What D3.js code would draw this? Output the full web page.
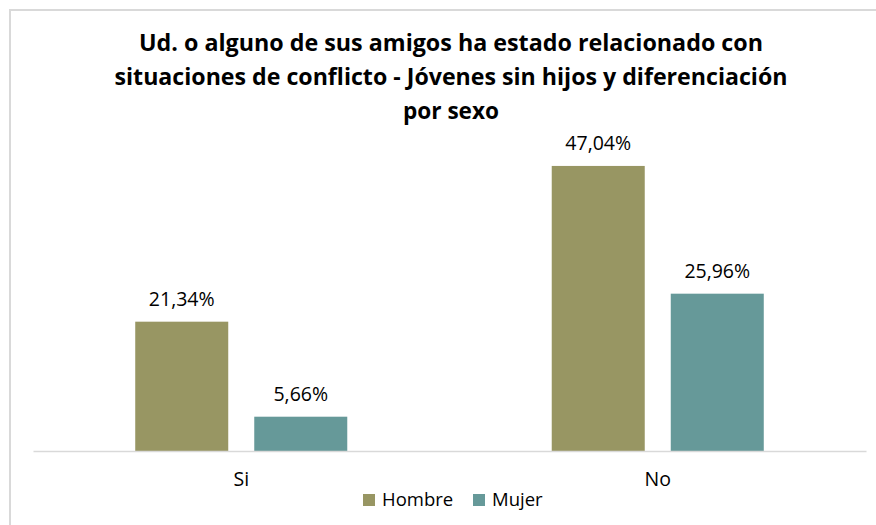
<!DOCTYPE html>
<html>
<head>
<meta charset="utf-8">
<script src="https://cdn.jsdelivr.net/npm/d3@7"></script>
<style>
  html, body { margin: 0; padding: 0; background: #fff; }
  svg { display: block; }
  text { font-family: "Open Sans", "Noto Sans", sans-serif; fill: #000; }
</style>
</head>
<body>
<svg id="chart" width="876" height="525"></svg>
<script>
// Chart data
const categories = ["Si", "No"];
const seriesNames = ["Hombre", "Mujer"];
const hombreValues = [21.34, 47.04];
const mujerValues = [5.66, 25.96];
const titleLines = [
  "Ud. o alguno de sus amigos ha estado relacionado con",
  "situaciones de conflicto - Jóvenes sin hijos y diferenciación",
  "por sexo"
];
const seriesColors = ["#989663", "#669999"];

const values = [hombreValues, mujerValues];
const svg = d3.select("#chart");

// Chart area frame
svg.append("rect")
  .attr("x", 10).attr("y", 10)
  .attr("width", 900).attr("height", 540)
  .attr("fill", "#fff")
  .attr("stroke", "#d9d9d9")
  .attr("stroke-width", 2);

// Title (three centred bold lines)
const titleWidths = [624, 673, 96];
const titleG = svg.append("g");
titleLines.forEach((line, i) => {
  titleG.append("text")
    .attr("x", 451)
    .attr("y", 51 + i * 34)
    .attr("text-anchor", "middle")
    .attr("font-size", 22.5)
    .attr("font-weight", 700)
    .attr("textLength", titleWidths[i])
    .attr("lengthAdjust", "spacingAndGlyphs")
    .text(line);
});

// Scales
const plot = { left: 33, right: 866, top: 148, bottom: 451 };
const x = d3.scaleBand().domain(categories).range([plot.left, plot.right]);
const xSub = d3.scaleBand().domain(seriesNames)
  .range([0, x.bandwidth()])
  .paddingInner(0.2185)
  .paddingOuter(0.859);
const y = d3.scaleLinear().domain([0, 50]).range([plot.bottom, plot.top]);

// Bars and value labels
const fmt = v => d3.format(".2f")(v).replace(".", ",") + "%";
categories.forEach((cat, ci) => {
  const g = svg.append("g").attr("transform", `translate(${x(cat)},0)`);
  seriesNames.forEach((s, si) => {
    const v = values[si][ci];
    g.append("rect")
      .attr("x", xSub(s))
      .attr("y", y(v))
      .attr("width", xSub.bandwidth())
      .attr("height", y(0) - y(v))
      .attr("fill", seriesColors[si]);
    g.append("text")
      .attr("x", xSub(s) + xSub.bandwidth() / 2)
      .attr("y", y(v) - 15.5)
      .attr("text-anchor", "middle")
      .attr("font-size", 19.5)
      .text(fmt(v));
  });
});

// Category axis
const xAxis = svg.append("g")
  .attr("transform", `translate(0,${plot.bottom})`)
  .call(d3.axisBottom(x).tickSize(0).tickPadding(20));
xAxis.select(".domain").attr("stroke", "#d9d9d9").attr("stroke-width", 1.5);
xAxis.selectAll(".tick text")
  .attr("font-size", 19.5)
  .attr("font-family", "'Open Sans', 'Noto Sans', sans-serif")
  .attr("fill", "#000")
  .attr("dy", 0)
  .attr("y", 35);

// Legend
const legendX = [363, 473];
const legend = svg.append("g");
seriesNames.forEach((s, i) => {
  legend.append("rect")
    .attr("x", legendX[i]).attr("y", 494)
    .attr("width", 12).attr("height", 12)
    .attr("fill", seriesColors[i]);
  legend.append("text")
    .attr("x", legendX[i] + 19).attr("y", 506)
    .attr("font-size", 18.5)
    .text(s);
});
</script>
</body>
</html>
